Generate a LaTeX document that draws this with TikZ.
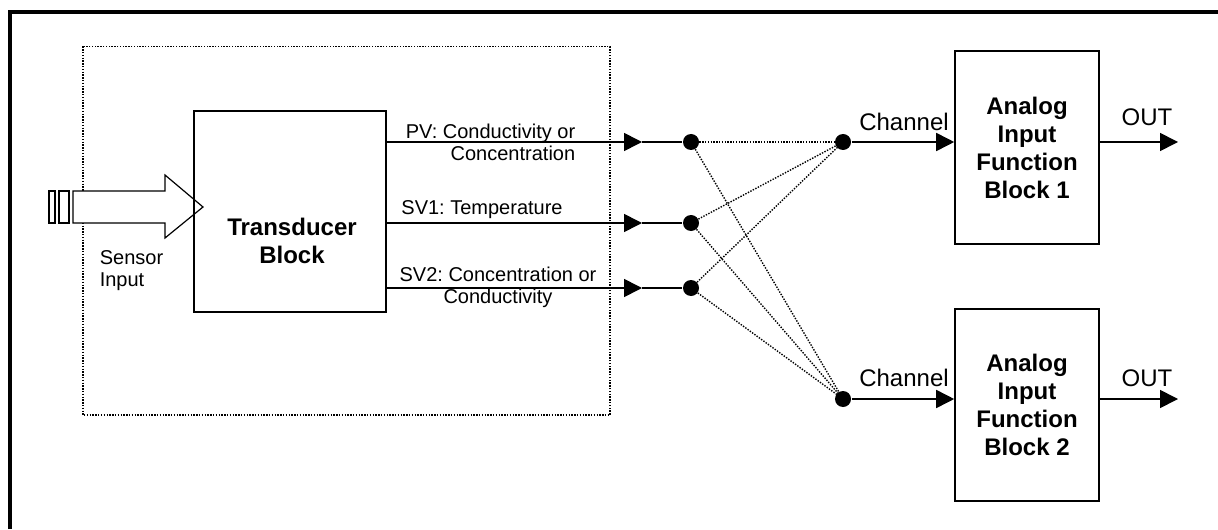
\documentclass[tikz,border=0pt]{standalone}
\usepackage{fontspec}
\setmainfont{Liberation Sans}
\usetikzlibrary{arrows.meta}
\frenchspacing

\begin{document}
\begin{tikzpicture}[x=0.5pt, y=-0.5pt, line width=0.8pt,
	blk/.style={draw, minimum width=72pt, minimum height=96.5pt, inner sep=0pt},
	btxt/.style={font=\fontsize{12}{14}\selectfont\bfseries, align=center},
	lbl/.style={font=\fontsize{10}{11}\selectfont, inner sep=0pt},
	big/.style={font=\fontsize{12}{14}\selectfont, inner sep=0pt},
	dot/.style={circle, fill, inner sep=0pt, minimum size=8pt},
	link/.style={line width=0.7pt, dash pattern=on 0.7pt off 0.7pt},
	sig/.style={-{Triangle[length=9pt, width=9pt]}}]
	\useasboundingbox (0,0) rectangle (1218,529);
	\draw[line width=2pt] (9.5,529) -- (9.5,12) -- (1218,12);
	\draw[link] (83,46.5) rectangle (610,415);
	\draw[line width=0.6pt] (49,191) rectangle (55,223);
	\draw[line width=0.6pt] (59,191) rectangle (69,223);
	\draw[line width=0.6pt, fill=white] (73,191) -- (165,191) -- (165,175) -- (203,207) -- (165,238) -- (165,223) -- (73,223) -- cycle;
	\node[draw, minimum width=96pt, minimum height=100.5pt, inner sep=0pt] (tb) at (290,211.5) {};
	\node[btxt] (tbt) at (292,241) {Transducer\\Block};
	\node[lbl, align=left, anchor=west] (sens) at (99,271) {Sensor\\Input};
	\foreach \s/\y in {pv/142, sv1/223, sv2/288}{
		\node[dot] (\s) at (691,\y) {};
		\coordinate (\s tip) at (642,\y);
		\draw[sig] (tb.east |- \s) -- (\s tip);
		\draw (\s tip) -- (\s);
	}
	\node[lbl, align=right, anchor=east] (pvl) at (576,142) {PV: Conductivity or\\Concentration};
	\node[lbl] (sv1l) at (482,210) {SV1: Temperature};
	\node[lbl, align=center] (sv2l) at (498,287) {SV2: Concentration or\\Conductivity};
	\node[dot] (ch1) at (843,142) {};
	\node[dot] (ch2) at (843,399) {};
	\foreach \a in {pv, sv1, sv2}{
		\foreach \b in {ch1, ch2}
			\draw[link] (\a.center) -- (\b.center);
	}
	\node[blk, btxt] (ai1) at (1027,147.5) {Analog\\Input\\Function\\Block 1};
	\node[blk, btxt, minimum height=96pt] (ai2) at (1027,405) {Analog\\Input\\Function\\Block 2};
	\coordinate (out1) at (1178,142);
	\coordinate (out2) at (1178,399);
	\draw[sig] (ch1) -- (ch1 -| ai1.west);
	\draw[sig] (ch2) -- (ch2 -| ai2.west);
	\draw[sig] (ch1 -| ai1.east) -- (out1);
	\draw[sig] (ch2 -| ai2.east) -- (out2);
	\node[big] (chl1) at (904,122) {Channel};
	\node[big] (chl2) at (904,378) {Channel};
	\node[big] (outl1) at (1147,117) {OUT};
	\node[big] (outl2) at (1147,378) {OUT};
\end{tikzpicture}
\end{document}
